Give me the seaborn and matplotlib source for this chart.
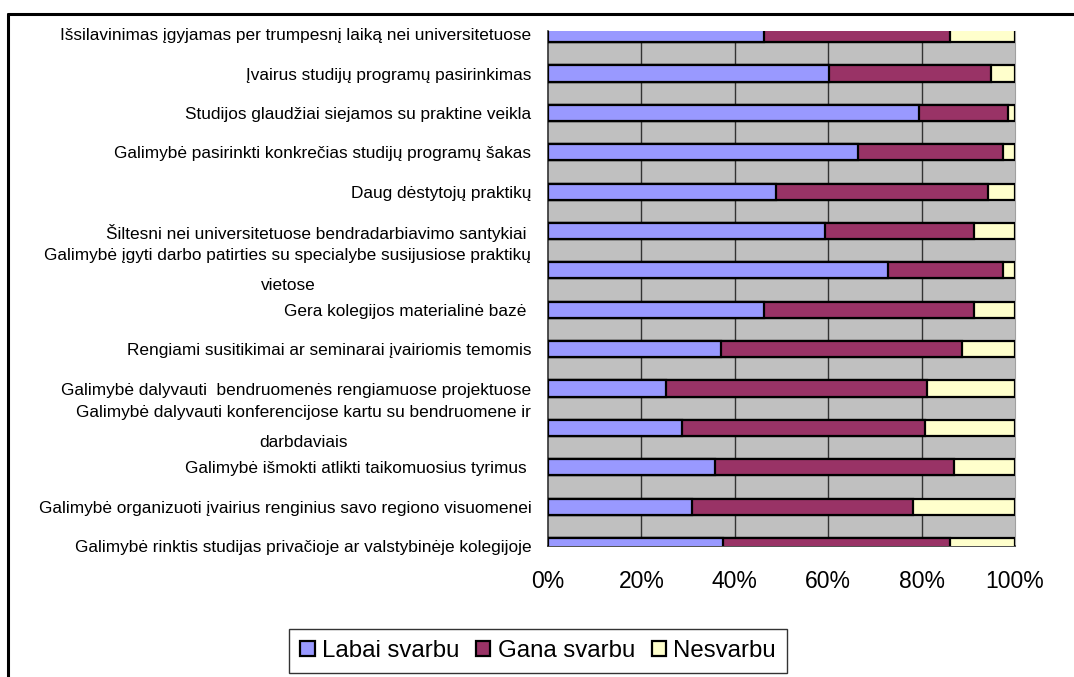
import numpy as np
import pandas as pd
import seaborn as sns
import matplotlib.pyplot as plt
from matplotlib.lines import Line2D

categories = [
    "Išsilavinimas įgyjamas per trumpesnį laiką nei universitetuose",
    "Įvairus studijų programų pasirinkimas",
    "Studijos glaudžiai siejamos su praktine veikla",
    "Galimybė pasirinkti konkrečias studijų programų šakas",
    "Daug dėstytojų praktikų",
    "Šiltesni nei universitetuose bendradarbiavimo santykiai ",
    "Galimybė įgyti darbo patirties su specialybe susijusiose praktikų\nvietose",
    "Gera kolegijos materialinė bazė ",
    "Rengiami susitikimai ar seminarai įvairiomis temomis",
    "Galimybė dalyvauti  bendruomenės rengiamuose projektuose",
    "Galimybė dalyvauti konferencijose kartu su bendruomene ir\ndarbdaviais",
    "Galimybė išmokti atlikti taikomuosius tyrimus ",
    "Galimybė organizuoti įvairius renginius savo regiono visuomenei",
    "Galimybė rinktis studijas privačioje ar valstybinėje kolegijoje",
]
labai_svarbu = [46.2, 60.2, 79.4, 66.3, 48.8, 59.3, 72.8, 46.2, 37.1, 25.2, 28.6, 35.7, 30.8, 37.5]
gana_svarbu = [39.8, 34.6, 19.2, 31.1, 45.4, 31.9, 24.6, 45.0, 51.5, 55.9, 52.2, 51.2, 47.3, 48.6]
nesvarbu = [14.0, 5.2, 1.4, 2.6, 5.8, 8.8, 2.6, 8.8, 11.4, 18.9, 19.2, 13.1, 21.9, 13.9]
series_names = ["Labai svarbu", "Gana svarbu", "Nesvarbu"]
series_colors = ["#9999FF", "#993366", "#FFFFCC"]
x_ticks = [0, 20, 40, 60, 80, 100]
x_tick_labels = ["0%", "20%", "40%", "60%", "80%", "100%"]

df = pd.DataFrame({
    "kategorija": categories,
    "Labai svarbu": labai_svarbu,
    "Gana svarbu": gana_svarbu,
    "Nesvarbu": nesvarbu,
})
# normalize to 100 % and build cumulative sums for stacking
tot = df[series_names].sum(axis=1)
for s in series_names:
    df[s] = df[s] / tot * 100
cum = df[series_names].cumsum(axis=1)

sns.set_style("white")
plt.rcParams["font.family"] = ["Liberation Sans", "DejaVu Sans"]
plt.rcParams.update({"text.color": "black", "xtick.color": "black",
                     "ytick.color": "black", "axes.labelcolor": "black"})

fig = plt.figure(figsize=(10.74, 6.77), dpi=100)
ax = fig.add_axes([548 / 1074, 1 - 546 / 677, 467 / 1074, 515 / 677])
ax.set_facecolor("#C0C0C0")

# draw from the longest (cumulative) bar to the shortest
for s, c in reversed(list(zip(series_names, series_colors))):
    sns.barplot(x=cum[s], y=df["kategorija"], orient="h", color=c, width=0.41,
                edgecolor="black", linewidth=1.6, saturation=1, label=s, ax=ax,
                zorder=3)

ax.set_xlim(0, 100)
ax.set_ylim(13.0, -0.08)
ax.set_xticks(x_ticks)
ax.set_xticklabels(x_tick_labels, fontsize=16.5)
ax.set_xlabel("")
ax.set_ylabel("")
for x in x_ticks[1:-1]:
    ax.axvline(x, color="#333333", lw=1, zorder=1)

ax.tick_params(axis="x", direction="out", length=5, width=1, color="#333333", pad=12)
ax.tick_params(axis="y", direction="out", length=6, width=1, color="#555555", pad=6,
               labelsize=12.4)
for lab in ax.get_yticklabels():
    lab.set_multialignment("center")
    if "\n" in lab.get_text():
        lab.set_linespacing(2.25)
        lab.set_verticalalignment("center")

ax.spines["top"].set_visible(False)
ax.spines["right"].set_color("#A0A0A0")
ax.spines["left"].set_color("#333333")
ax.spines["bottom"].set_color("#333333")
ax.spines["left"].set_linewidth(1.2)
ax.spines["bottom"].set_linewidth(1.2)

handles, labels = ax.get_legend_handles_labels()
handles, labels = handles[::-1], labels[::-1]
ax.legend(handles, labels, ncol=3, loc="center", bbox_to_anchor=(538 / 1074, 1 - 651 / 677),
          bbox_transform=fig.transFigure, frameon=True, fancybox=False,
          edgecolor="black", fontsize=17.3, handlelength=0.6, handleheight=0.6,
          handletextpad=0.3, columnspacing=0.7, borderpad=0.45)
ax.get_legend().get_frame().set_linewidth(1)

# outer chart frame (only top and left edges show)
fig.add_artist(Line2D([8 / 1074, 1], [1 - 14 / 677] * 2, color="black", lw=2.2))
fig.add_artist(Line2D([8 / 1074] * 2, [0, 1 - 14 / 677], color="black", lw=2.2))

plt.savefig("out.png", dpi=100)
plt.close()
